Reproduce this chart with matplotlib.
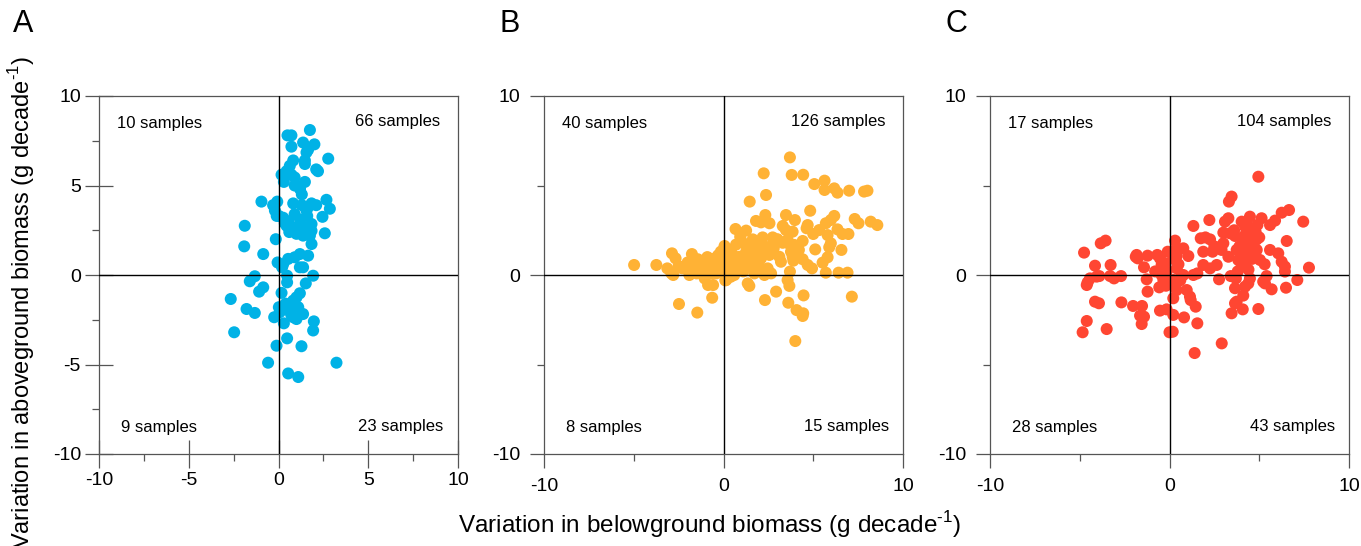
import matplotlib.pyplot as plt
import numpy as np

plt.rcParams['font.family'] = ['Liberation Sans', 'DejaVu Sans']
plt.rcParams['axes.unicode_minus'] = False
plt.rcParams['mathtext.fontset'] = 'custom'
plt.rcParams['mathtext.rm'] = 'Liberation Sans'

# panel A (belowground x, aboveground y)
a_x = [1.75, 0.5, 0.72, 1.37, 2.0, 0.72, 1.56, 1.65, 2.77, 0.82, 1.47, 1.47, 0.63, 2.1, 2.2,
       0.45, 0.17, 0.72, 0.9, 0.9, 1.47, 1.2, 1.3, -0.95, -0.07, 0.82, -0.2, 1.3, 1.65, 1.84,
       2.1, 2.67, 2.86, 1.56, 0.02, 0.26, 0.54, 2.45, 1.2, 1.3, 0.45, 0.63, 0.91, 1.56, 1.84,
       1.84, -1.88, 2.58, 1.37, 1.75, 1.84, -1.91, -0.85, 1.19, 1.65, 0.9, 0.54, 0.26, 0.2,
       1.19, 1.37, 1.93, -1.32, -1.6, 0.48, 0.48, 1.52, -0.85, -1.08, 0.17, 1.19, -2.66, 0.82,
       1.0, -1.78, -1.32, 0.02, 0.07, -0.24, 0.63, 0.82, 1.0, 0.3, 1.37, 1.97, 1.93, -2.47,
       0.48, -0.11, 1.28, -0.58, 3.23, 0.54, 1.1, -0.1, -0.05, -0.15, -0.3, 0.35, 0.6, 1.0,
       1.4, 0.4, 0.7, 1.1, 0.3, 0.9, 1.6]
a_y = [8.1, 7.8, 7.8, 7.4, 7.3, 7.17, 6.85, 7.0, 6.5, 6.4, 6.4, 6.2, 6.1, 5.9, 5.8,
       5.8, 5.6, 5.6, 5.45, 5.0, 5.2, 4.8, 4.5, 4.1, 4.1, 4.0, 3.6, 3.9, 3.8, 4.0,
       3.9, 4.2, 3.7, 3.6, 3.3, 3.2, 3.0, 3.25, 3.1, 2.75, 2.75, 2.57, 2.66, 2.66, 2.85,
       2.47, 2.75, 2.33, 2.2, 2.2, 1.73, 1.6, 1.17, 1.17, 1.08, 0.99, 0.9, 0.6, 0.43,
       0.43, 0.43, -0.04, -0.07, -0.35, -0.04, -0.41, -0.47, -0.69, -0.93, -1.0, -1.02, -1.34, -1.43,
       -1.25, -1.9, -2.12, -1.8, -2.08, -2.36, -1.99, -2.36, -2.46, -2.7, -2.18, -2.59, -3.1, -3.2,
       -3.54, -3.95, -3.98, -4.9, -4.9, -5.5, -5.7, 3.3, 0.7, 2.0, 3.9, 2.9, 2.4, 2.3,
       2.6, -1.6, -2.2, -1.8, 5.2, 3.4, 3.3]

# panel B
b_x = [-4.98, -3.74, -2.87, -2.67, -3.13, -2.9, -2.8, -2.3, -1.76, -1.43, -0.96, -1.7, -1.9,
       -1.5, -1.15, -0.63, -0.31, 0.06, -1.05, -0.86, -0.58, -0.67, -0.4, 0.1, -0.63, -2.48,
       -1.46, -0.2, -0.4, -0.8, -1.2, -0.3, -0.1, -0.6, -1.0, -0.5, -0.2, -1.3, -2.0, -2.5,
       -0.9, -0.15,
       3.7, 2.24, 3.8, 4.44, 5.06, 5.63, 5.63, 6.17, 6.35, 7.0, 7.83, 8.02, 2.37, 1.46, 4.83,
       2.33, 1.81, 2.09, 2.56, 3.48, 3.98, 6.17, 5.98, 5.7, 7.31, 7.52, 8.2, 8.57, 0.67, 1.26,
       0.93, 3.3, 3.48, 4.69, 4.63, 5.33, 6.35, 6.63, 6.96, 5.8, 5.0, 3.85, 1.63, 2.18, 2.74,
       3.02, 3.57, 3.67, 3.94, 4.41, 5.98, 5.89, 6.57, 5.11, 0.06, 0.52, 0.89, 1.26, 1.54, 1.81,
       2.09, 2.28, 2.56, 3.11, 3.2, 3.76, 3.85, 3.89, 4.41, 4.69, 4.93, 5.52, 5.8, 5.7, 6.41,
       6.91, 0.15, 0.24, 0.7, 0.98, 1.26, 1.63, 1.72, 2.28, 2.65, 2.0, 2.46, 3.7, 3.57, 0.15,
       1.35, 1.44, 3.67, 2.93, 2.31, 3.61, 4.46, 4.07, 4.44, 4.41, 7.15, 4.0,
       0.3, 0.5, 0.8, 1.1, 1.5, 1.9, 2.2, 2.6, 0.4, 0.7, 1.0, 1.3, 1.7, 2.1, 2.4, 2.8, 3.0,
       0.2, 0.6, 1.9, 3.3, 4.2, 1.1, 0.4]
b_y = [0.56, 0.56, 1.21, 0.93, 0.37, 0.09, 0.0, 0.37, 1.17, 0.88, 0.88, 0.37, 0.0,
       0.09, 0.46, 0.56, 0.84, 1.62, -0.19, -0.56, -0.56, 0.09, 0.09, -0.3, -1.27, -1.62,
       -2.1, 0.3, 0.6, 0.3, 0.2, 1.1, 0.5, 0.9, 0.6, 0.2, 0.9, 0.6, 0.7, 0.5,
       1.0, 1.3,
       6.57, 5.68, 5.59, 5.6, 5.08, 5.27, 4.75, 4.84, 4.6, 4.71, 4.66, 4.71, 4.47, 4.1, 3.59,
       3.35, 3.02, 2.94, 2.89, 3.35, 3.07, 3.3, 3.07, 2.89, 3.13, 2.89, 2.98, 2.79, 2.57, 2.48,
       2.14, 2.74, 2.51, 2.79, 2.61, 2.51, 2.55, 2.29, 2.29, 2.23, 2.29, 2.42, 1.99, 2.1, 2.1,
       1.96, 1.96, 1.73, 1.68, 1.9, 1.77, 1.55, 1.4, 1.43, 1.55, 1.12, 1.02, 1.3, 1.21, 1.4,
       0.93, 1.21, 1.12, 1.02, 0.74, 1.3, 1.02, 0.8, 0.88, 0.56, 0.37, 0.69, 0.99, 0.13, 0.13,
       0.13, 0.47, 0.19, 0.19, 0.56, 0.47, 0.56, 0.09, 0.0, 0.09, 0.47, 0.37, 0.19, -0.28, -0.28,
       -0.47, -0.61, -0.61, -0.93, -1.4, -1.55, -1.14, -1.96, -2.14, -2.29, -1.21, -3.69,
       0.8, 0.4, 0.6, 0.9, 0.8, 0.7, 1.5, 1.6, 1.4, 1.7, 1.9, 1.6, 1.5, 1.8, 1.5, 1.5, 2.0,
       0.9, 0.0, 1.3, 1.8, 1.4, 0.2, -0.1]

# panel C
c_x = [-4.76, -3.83, -3.56, -4.15, -3.28, -4.43, -4.56, -4.61, -4.06, -3.91, -3.31, -3.09,
       -2.7, -4.15, -3.93, -2.68, -4.61, -4.84, -3.5, -1.88, -1.77, -1.83, -1.22, -0.68, -0.53,
       -1.42, -0.44, -0.34, -1.27, -1.22, -0.57, -0.34, -0.44, -2.03, -1.53, -1.64, -1.42,
       -1.55, -0.53, -0.16, 0.0, -0.25, -0.16, -0.8, -0.2, -0.1,
       4.95, 3.46, 3.31, 6.66, 6.25, 7.45, 2.22, 1.33, 3.09, 3.28, 4.02, 4.48, 4.21, 5.13, 5.6,
       5.88, 4.67, 4.48, 4.86, 4.21, 3.0, 3.37, 3.65, 1.74, 2.26, 6.53, 0.31, 0.77, 1.05, 0.31,
       0.4, 1.88, 2.4, 3.0, 2.9, 3.28, 3.74, 4.02, 4.11, 4.39, 4.86, 3.83, 4.21, 4.02, 5.04,
       5.6, 6.06, 6.25, 6.43, 6.43, 7.77, 1.88, 2.26, 2.63, 1.33, 1.55, 0.4, 0.21, 0.59, 0.77,
       2.76, 3.41, 3.7, 4.39, 4.21, 4.48, 5.41, 5.22, 5.32, 5.69, 6.49, 7.12, 3.65, 4.11, 3.74,
       3.65, 4.08, 4.95, 3.46, 0.4, 0.21, 0.96, 1.14, 1.18, 1.46, 0.21, 0.81, 1.55, 0.18, 2.91,
       1.4,
       4.4, 4.6, 4.3, 4.7, 4.5, 4.8, 4.1, 3.9, 4.6, 5.0, 4.4, 3.8, 4.3, 4.9, 3.6, 4.7, 5.3,
       0.2, 0.5, 0.1, 0.6, 2.0, 2.5]
c_y = [1.25, 1.77, 1.92, 0.52, 0.56, -0.19, -0.41, -0.56, -0.09, -0.06, -0.06, -0.19,
       -0.06, -1.49, -1.58, -1.53, -2.57, -3.2, -3.02, 1.02, 0.93, 1.12, 1.08, 1.12, 0.93,
       0.43, 0.56, 0.28, -0.24, -0.93, -0.69, -0.28, 0.0, -1.73, -1.73, -2.27, -2.33,
       -2.74, -1.99, -1.92, -3.2, 0.65, 0.19, 0.2, -0.6, 1.3,
       5.49, 4.38, 4.1, 3.63, 3.48, 2.98, 3.07, 2.74, 2.98, 3.17, 2.98, 3.26, 2.7, 3.17, 2.79,
       3.04, 2.51, 2.05, 1.99, 2.23, 2.37, 2.33, 2.18, 2.05, 1.99, 1.9, 1.92, 1.49, 1.06, 1.4,
       1.06, 1.3, 1.3, 1.77, 1.4, 1.02, 1.4, 1.58, 1.02, 1.21, 1.4, 0.84, 0.65, 0.47, 0.84,
       1.4, 1.21, 0.74, 0.47, 0.19, 0.41, 0.56, 0.37, 0.56, 0.0, 0.09, 0.37, -0.28, -0.19, 0.0,
       -0.24, -0.06, -0.19, -0.47, -0.65, -0.19, -0.06, -0.37, -0.47, -0.8, -0.71, -0.28, -0.74, -1.15, -1.49,
       -1.58, -1.92, -1.9, -2.14, -0.84, -1.3, -0.84, -1.21, -1.4, -1.77, -2.23, -2.37, -2.7, -3.17, -3.82,
       -4.36,
       2.6, 2.2, 1.8, 1.6, 1.2, 2.4, 1.9, 1.6, 0.9, 2.1, 0.3, 0.2, 2.9, 2.8, 2.5, 1.0, 0.6,
       0.9, 0.6, -0.4, -0.3, 2.1, 1.6]

panels = ['A', 'B', 'C']
colors = ['#00B2E6', '#FFB235', '#FF4632']
labels = [['10 samples', '66 samples', '9 samples', '23 samples'],
          ['40 samples', '126 samples', '8 samples', '15 samples'],
          ['17 samples', '104 samples', '28 samples', '43 samples']]
xs = [a_x, b_x, c_x]
ys = [a_y, b_y, c_y]

fig = plt.figure(figsize=(13.61, 5.46), dpi=100)
lefts = [99, 544, 990]
letter_x = [13, 500, 945]
for i in range(3):
    ax = fig.add_axes([lefts[i] / 1361, 1 - 454 / 546, 359 / 1361, 358 / 546])
    ax.axhline(0, color='black', lw=1.0, zorder=3)
    ax.axvline(0, color='black', lw=1.0, zorder=3)
    ax.scatter(xs[i], ys[i], s=75, color=colors[i], edgecolors='none', zorder=2)
    ax.set_xlim(-10, 10)
    ax.set_ylim(-10, 10)
    for sp in ax.spines.values():
        sp.set_color('#555555')
        sp.set_linewidth(0.9)
    if i == 0:
        ax.set_xticks([-10, -5, 0, 5, 10])
        ax.set_yticks([-10, -5, 0, 5, 10])
        ax.set_xticks([-7.5, -2.5, 2.5, 7.5], minor=True)
        ax.set_yticks([-7.5, -2.5, 2.5, 7.5], minor=True)
        ax.tick_params(which='major', direction='inout', length=20, width=0.9, color='#555555',
                       labelsize=14, pad=3)
    else:
        ax.set_xticks([-10, 0, 10])
        ax.set_yticks([-10, 0, 10])
        ax.set_xticks([-5, 5], minor=True)
        ax.set_yticks([-5, 5], minor=True)
        ax.tick_params(which='major', direction='out', length=10, width=0.9, color='#555555',
                       labelsize=14, pad=7)
    ax.tick_params(which='minor', direction='out', length=5, width=0.9, color='#555555')
    t = labels[i]
    ax.text(-9.0, 8.45, t[0], fontsize=12, ha='left', va='center')
    ax.text(9.0, 8.55, t[1], fontsize=12, ha='right', va='center')
    ax.text(-8.8, -8.5, t[2], fontsize=12, ha='left', va='center')
    ax.text(9.2, -8.45, t[3], fontsize=12, ha='right', va='center')
    fig.text(letter_x[i] / 1361, 1 - 24 / 546, panels[i], fontsize=22, ha='left', va='center')

fig.text(22 / 1361, 1 - 302 / 546, r'Variation in aboveground biomass (g decade$^{\text{-1}}$)',
         rotation=90, fontsize=17, ha='center', va='center')
fig.text(710 / 1361, 1 - 525 / 546, r'Variation in belowground biomass (g decade$^{\text{-1}}$)',
         fontsize=17.5, ha='center', va='center')

fig.savefig('out.png', dpi=100)
